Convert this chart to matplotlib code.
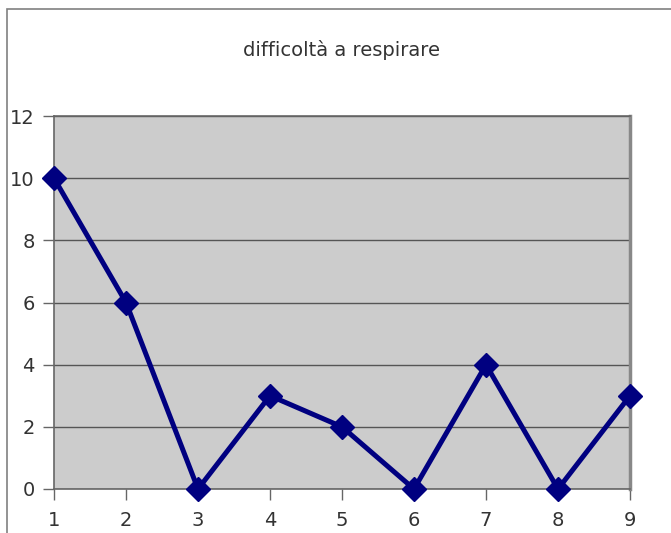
import matplotlib
matplotlib.use("Agg")
import matplotlib.pyplot as plt
from matplotlib.patches import Rectangle

# data
x_values = [1, 2, 3, 4, 5, 6, 7, 8, 9]
y_values = [10, 6, 0, 3, 2, 0, 4, 0, 3]
title = "difficoltà a respirare"
y_ticks = [0, 2, 4, 6, 8, 10, 12]

fig = plt.figure(figsize=(6.71, 5.33), dpi=100)
W, H = 671, 533

# outer chart frame (runs off the right and bottom edges)
fig.patches.append(Rectangle((7 / W, -0.1), 1.2, 1 - 9 / H + 0.1,
                             transform=fig.transFigure, fill=False,
                             edgecolor="#808080", linewidth=1.2))

ax = fig.add_axes([54 / W, 1 - 489 / H, (630 - 54) / W, (489 - 116) / H])
ax.set_facecolor("#cccccc")
ax.plot(x_values, y_values, color="#000080", linewidth=3.6,
        marker="D", markersize=12.5, clip_on=False, zorder=5)

ax.set_xlim(1, 9)
ax.set_ylim(0, 12)
ax.set_xticks(x_values)
ax.set_yticks(y_ticks)
ax.grid(axis="y", color="#555555", linewidth=1)
ax.set_axisbelow(True)

for side in ["left", "bottom", "top"]:
    ax.spines[side].set_color("#666666")
    ax.spines[side].set_linewidth(1.2)
ax.spines["right"].set_color("#888888")
ax.spines["right"].set_linewidth(2.5)

ax.tick_params(axis="both", direction="out", length=8, width=1,
               color="#666666", labelcolor="#333333", labelsize=14)
ax.tick_params(axis="x", pad=8)
ax.tick_params(axis="y", pad=6)

fig.text((228 + 455) / 2 / W, 1 - 50 / H, title, ha="center", va="center",
         fontsize=14, color="#333333")

fig.savefig("out.png", dpi=100)
